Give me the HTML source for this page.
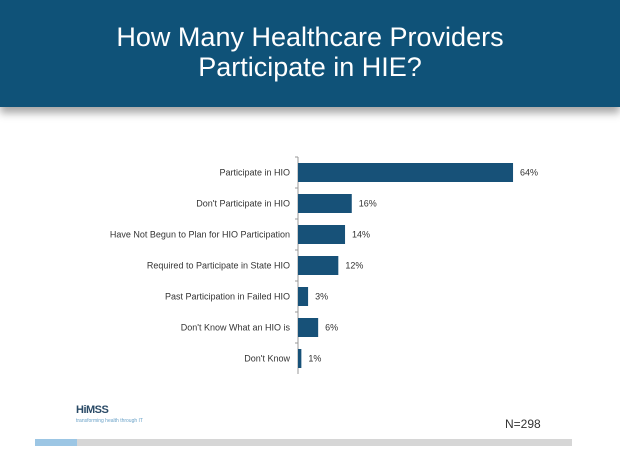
<!DOCTYPE html>
<html><head><meta charset="utf-8"><style>
body{margin:0;width:620px;height:468px;background:#fff;overflow:hidden;font-family:"Liberation Sans",sans-serif;position:relative}
#hdr{position:absolute;left:0;top:0;width:620px;height:107px;background:#0f5278;box-shadow:0 6px 8px rgba(0,0,0,.35);color:#fff;text-align:center;font-size:27px;line-height:30px;padding-top:22px;box-sizing:border-box}
</style></head><body>
<div id="hdr"><span>How Many Healthcare Providers<br>Participate in HIE?</span></div>
<svg id="chart" width="620" height="468" style="position:absolute;left:0;top:0"></svg>
<div style="position:absolute;left:76px;top:404px;color:#2a4a66;font-weight:bold;font-size:11px;letter-spacing:-0.5px">HiMSS</div>
<div style="position:absolute;left:76px;top:418px;color:#6aa2c8;font-size:5px">transforming health through IT</div>
<div style="position:absolute;left:505px;top:417px;color:#333;font-size:12px">N=298</div>
<div style="position:absolute;left:35px;top:439px;width:537px;height:7px;background:#d6d6d6"></div>
<div style="position:absolute;left:35px;top:439px;width:42px;height:7px;background:#9cc6e4"></div>
<script>
const categories=["Participate in HIO","Don't Participate in HIO","Have Not Begun to Plan for HIO Participation","Required to Participate in State HIO","Past Participation in Failed HIO","Don't Know What an HIO is","Don't Know"];
const values=[64,16,14,12,3,6,1];
const valueLabels=["64%","16%","14%","12%","3%","6%","1%"];
const svg=document.getElementById('chart');
const NS='http://www.w3.org/2000/svg';
const x0=298,pxPer=3.36,yTop=157,band=31,barH=19;
const xs=v=>x0+v*pxPer;
const ys=i=>yTop+i*band+(band-barH)/2;
function mk(t,a){const e=document.createElementNS(NS,t);for(const k in a)e.setAttribute(k,a[k]);svg.appendChild(e);return e;}
const ax=mk('line',{x1:x0,y1:yTop,x2:x0,y2:yTop+band*categories.length,stroke:'#999','stroke-width':1});


categories.forEach((c,i)=>{
 const tk=mk('line',{x1:x0-3,x2:x0,y1:yTop+i*band,y2:yTop+i*band,stroke:'#999'});
 
 
 const r=mk('rect',{x:x0,y:ys(i),width:xs(values[i])-x0,height:barH,fill:'#175178'});
 
 
 const l=mk('text',{x:x0-8,y:ys(i)+barH/2+3,'text-anchor':'end','font-size':9,fill:'#333','font-family':'Liberation Sans,sans-serif'});
 l.textContent=c;
 
 
 const v=mk('text',{x:xs(values[i])+7,y:ys(i)+barH/2+3,'font-size':9,fill:'#333','font-family':'Liberation Sans,sans-serif'});
 v.textContent=valueLabels[i];
 
 
});
</script>
</body></html>
